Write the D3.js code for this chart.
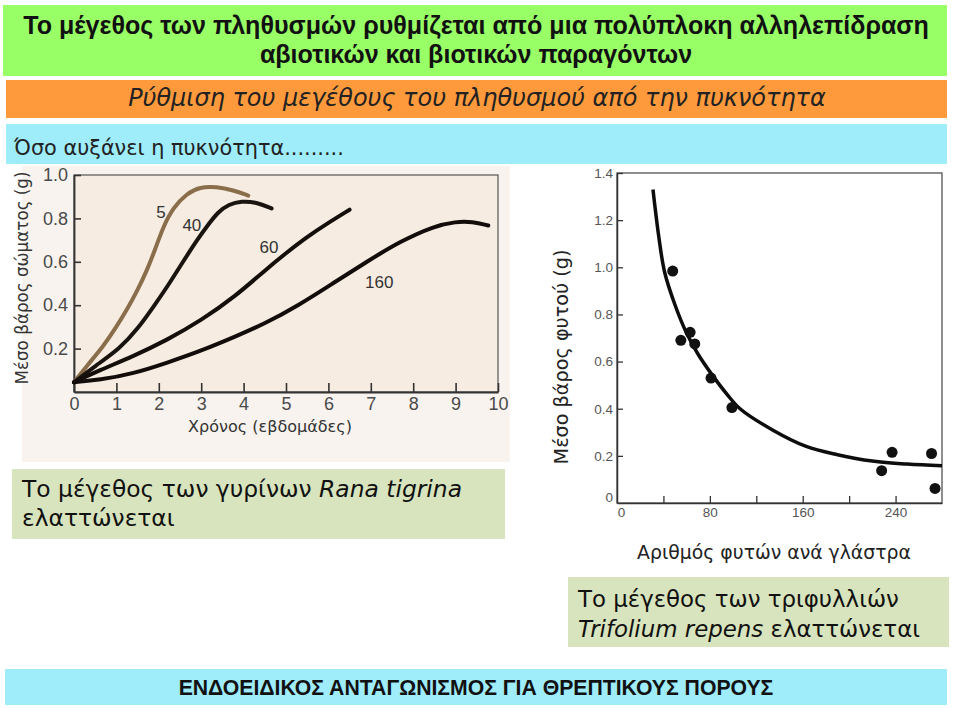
<!DOCTYPE html>
<html><head><meta charset="utf-8">
<script src="https://cdn.jsdelivr.net/npm/d3@7"></script>
<style>html,body{margin:0;padding:0;background:#fff}svg{display:block}</style>
</head><body>
<script>
// ---------- data ----------
const titleLines = ["Το μέγεθος των πληθυσμών ρυθμίζεται από μια πολύπλοκη αλληλεπίδραση", "αβιοτικών και βιοτικών παραγόντων"];
const subtitle = "Ρύθμιση του μεγέθους του πληθυσμού από την πυκνότητα";
const lead = "Όσο αυξάνει η πυκνότητα.........";
const footer = "ΕΝΔΟΕΙΔΙΚΟΣ ΑΝΤΑΓΩΝΙΣΜΟΣ ΓΙΑ ΘΡΕΠΤΙΚΟΥΣ ΠΟΡΟΥΣ";

// left chart: tadpole mean body mass (g) vs time (weeks), by density
const densities = ["5", "40", "60", "160"];
const curve5   = [[0,0.045],[0.3,0.12],[0.69,0.21],[1.0,0.30],[1.28,0.39],[1.5,0.47],[1.72,0.56],[1.92,0.66],[2.1,0.76],[2.34,0.85],[2.66,0.915],[2.97,0.945],[3.36,0.946],[3.76,0.93],[4.11,0.905]];
const curve40  = [[0,0.045],[0.5,0.12],[1.08,0.2],[1.5,0.29],[1.9,0.4],[2.25,0.5],[2.57,0.6],[2.9,0.7],[3.16,0.77],[3.4,0.83],[3.65,0.865],[3.95,0.88],[4.3,0.875],[4.66,0.846]];
const curve60  = [[0,0.045],[0.6,0.10],[1.4,0.165],[2.2,0.24],[3,0.33],[3.8,0.44],[4.5,0.56],[5,0.64],[5.5,0.715],[6,0.78],[6.5,0.84]];
const curve160 = [[0,0.045],[0.6,0.055],[1.4,0.085],[2.2,0.135],[3,0.19],[3.8,0.255],[4.5,0.315],[5.3,0.40],[6.1,0.50],[6.9,0.60],[7.7,0.695],[8.5,0.765],[9,0.785],[9.4,0.785],[9.77,0.767]];
const curveLabelPos = [[2.05,0.826],[2.78,0.766],[4.6,0.665],[7.2,0.505]];
const leftXTicks = [0,1,2,3,4,5,6,7,8,9,10];
const leftYTicks = [0.2,0.4,0.6,0.8,1.0];
const leftXTitle = "Χρόνος (εβδομάδες)";
const leftYTitle = "Μέσο βάρος σώματος (g)";
const leftNote = [["Το μέγεθος των γυρίνων ", "Rana tigrina"], ["ελαττώνεται", ""]];

// right chart: clover mean plant mass (g) vs plants per pot
const plantsPerPot = [48, 55, 63, 67, 81, 99, 228, 237, 271, 274];
const plantMass    = [0.984, 0.69, 0.724, 0.675, 0.53, 0.405, 0.137, 0.215, 0.21, 0.062];
const fitCurve = [[31,1.33],[36,1.13],[41,0.98],[50,0.84],[60,0.72],[70,0.63],[81,0.55],[95,0.46],[106,0.40],[134,0.31],[163,0.24],[190,0.205],[220,0.178],[250,0.165],[280,0.158]];
const rightXTicks = [0,40,80,120,160,200,240];
const rightXLabels = [0,80,160,240];
const rightYTicks = [0,0.2,0.4,0.6,0.8,1.0,1.2,1.4];
const rightXTitle = "Αριθμός φυτών ανά γλάστρα";
const rightYTitle = "Μέσο βάρος φυτού (g)";
const rightNote = [["Το μέγεθος των τριφυλλιών", ""], ["", "Trifolium repens", " ελαττώνεται"]];

// ---------- drawing ----------
const W = 960, H = 708;
const svg = d3.select("body").append("svg").attr("width", W).attr("height", H);
const SANS = "'DejaVu Sans', 'Noto Sans', sans-serif";
const ARIAL = "'Liberation Sans', Arial, sans-serif";

function fit(sel, target) {
  const w = sel.node().getComputedTextLength();
  const fs = parseFloat(sel.attr("font-size"));
  sel.attr("font-size", (fs * target / w).toFixed(2));
}

// banners
svg.append("rect").attr("x",3).attr("y",5).attr("width",944).attr("height",71).attr("fill","#99ff66");
svg.append("rect").attr("x",6).attr("y",80).attr("width",941).attr("height",38).attr("fill","#ff9a3c");
svg.append("rect").attr("x",6).attr("y",124).attr("width",941).attr("height",40).attr("fill","#9fecfa");
svg.append("rect").attr("x",5).attr("y",669).attr("width",942).attr("height",36).attr("fill","#9fecfa");

const t1 = svg.append("text").attr("x",476).attr("y",34).attr("text-anchor","middle").attr("font-family",ARIAL)
  .attr("font-weight","bold").attr("font-size",20).attr("fill","#111").text(titleLines[0]);
fit(t1, 906);
svg.append("text").attr("x",476).attr("y",63).attr("text-anchor","middle").attr("font-family",ARIAL)
  .attr("font-weight","bold").attr("font-size",t1.attr("font-size")).attr("fill","#111").text(titleLines[1]);
const st = svg.append("text").attr("x",477).attr("y",106).attr("text-anchor","middle").attr("font-family",SANS)
  .attr("font-style","italic").attr("font-size",18).attr("fill","#222").text(subtitle);
fit(st, 698);
const ld = svg.append("text").attr("x",14).attr("y",155).attr("font-family",SANS)
  .attr("font-size",17).attr("fill","#222").text(lead);
fit(ld, 330);
const ft = svg.append("text").attr("x",476).attr("y",695).attr("text-anchor","middle").attr("font-family",ARIAL)
  .attr("font-weight","bold").attr("font-size",18).attr("fill","#111").text(footer);
fit(ft, 595);

// ---------- left chart ----------
svg.append("rect").attr("x",22).attr("y",166).attr("width",488).attr("height",296).attr("fill","#f8f3ee");
const L = {x0:74, x1:498, y0:175, y1:392};
svg.append("rect").attr("x",L.x0).attr("y",L.y0).attr("width",L.x1-L.x0).attr("height",L.y1-L.y0).attr("fill","#f6ece1");
const lx = d3.scaleLinear().domain([0,10]).range([L.x0,L.x1]);
const ly = d3.scaleLinear().domain([0,1]).range([L.y1,L.y0]);
const lg = svg.append("g");
lg.append("rect").attr("x",L.x0).attr("y",L.y0).attr("width",L.x1-L.x0).attr("height",L.y1-L.y0)
  .attr("fill","none").attr("stroke","#555").attr("stroke-width",1.2);
const lxAxis = lg.append("g").attr("transform",`translate(0,${L.y1})`)
  .call(d3.axisBottom(lx).tickValues(leftXTicks).tickSizeInner(-9).tickSizeOuter(0).tickPadding(5).tickFormat(d3.format("d")));
const lyAxis = lg.append("g").attr("transform",`translate(${L.x0},0)`)
  .call(d3.axisLeft(ly).tickValues(leftYTicks).tickSizeInner(-7).tickSizeOuter(0).tickPadding(6).tickFormat(d3.format(".1f")));
[lxAxis, lyAxis].forEach(a => {
  a.select(".domain").attr("stroke","#333").attr("stroke-width",1.8);
  a.selectAll(".tick line").attr("stroke","#333").attr("stroke-width",1.6);
  a.selectAll(".tick text").attr("font-family",ARIAL).attr("font-size",18).attr("fill","#4a4a4a");
});

const line = d3.line().x(d=>lx(d[0])).y(d=>ly(d[1])).curve(d3.curveBasis);
const curves = [curve5, curve40, curve60, curve160];
const curveColors = ["#8a6d4a", "#1a1410", "#150f0c", "#120d0a"];
curves.forEach((c,i) => {
  lg.append("path").attr("d", line(c)).attr("fill","none").attr("stroke",curveColors[i])
    .attr("stroke-width",4).attr("stroke-linecap","round");
});
densities.forEach((d,i) => {
  lg.append("text").attr("x",lx(curveLabelPos[i][0])).attr("y",ly(curveLabelPos[i][1]))
    .attr("text-anchor","middle").attr("dominant-baseline","central")
    .attr("font-family",ARIAL).attr("font-size",17).attr("fill","#333").text(d);
});
const lxt = svg.append("text").attr("x",270).attr("y",432).attr("text-anchor","middle").attr("font-family",SANS)
  .attr("font-size",15).attr("fill","#333").text(leftXTitle);
fit(lxt, 164);
const lyt = svg.append("text").attr("transform","translate(28,278) rotate(-90)").attr("text-anchor","middle")
  .attr("font-family",SANS).attr("font-size",15).attr("fill","#333").text(leftYTitle);
fit(lyt, 213);

// left note
svg.append("rect").attr("x",12).attr("y",469).attr("width",493).attr("height",70).attr("fill","#d8e4bd");
const ln = svg.append("g").attr("font-family",SANS).attr("fill","#111");
const ln1 = ln.append("text").attr("x",22).attr("y",497).attr("font-size",21);
ln1.append("tspan").text(leftNote[0][0]);
ln1.append("tspan").attr("font-style","italic").text(leftNote[0][1]);
fit(ln1, 440);
ln.append("text").attr("x",22).attr("y",526).attr("font-size",ln1.attr("font-size")).text(leftNote[1][0]);

// ---------- right chart ----------
const R = {x0:617, x1:942, y0:173, y1:503};
const rx = d3.scaleLinear().domain([0,280]).range([R.x0,R.x1]);
const ry = d3.scaleLinear().domain([0,1.4]).range([R.y1,R.y0]);
const rg = svg.append("g");
rg.append("rect").attr("x",R.x0).attr("y",R.y0).attr("width",R.x1-R.x0).attr("height",R.y1-R.y0)
  .attr("fill","none").attr("stroke","#444").attr("stroke-width",1.2);
const rxAxis = rg.append("g").attr("transform",`translate(0,${R.y1})`)
  .call(d3.axisBottom(rx).tickValues(rightXTicks).tickSizeInner(-7).tickSizeOuter(0).tickPadding(4)
  .tickFormat(d => rightXLabels.includes(d) ? d : ""));
const ryAxis = rg.append("g").attr("transform",`translate(${R.x0},0)`)
  .call(d3.axisLeft(ry).tickValues(rightYTicks).tickSizeInner(-6).tickSizeOuter(0).tickPadding(4)
  .tickFormat(d => d === 0 ? "0" : d3.format(".1f")(d)));
[rxAxis, ryAxis].forEach(a => {
  a.select(".domain").attr("stroke","#333").attr("stroke-width",1.5);
  a.selectAll(".tick line").attr("stroke","#333").attr("stroke-width",1.3);
  a.selectAll(".tick text").attr("font-family",ARIAL).attr("font-size",13.5).attr("fill","#555");
});
ryAxis.selectAll(".tick").filter(d => d === 0).select("line").remove();
ryAxis.selectAll(".tick").filter(d => d === 0).select("text").attr("dy","-0.1em");
rxAxis.selectAll(".tick").filter(d => d === 0).select("line").remove();
rxAxis.selectAll(".tick").filter(d => d === 0).select("text").attr("dx","0.3em");

const rline = d3.line().x(d=>rx(d[0])).y(d=>ry(d[1])).curve(d3.curveCatmullRom.alpha(0.5));
rg.append("path").attr("d", rline(fitCurve)).attr("fill","none").attr("stroke","#0d0d0d").attr("stroke-width",3.5);
rg.selectAll("circle.pt").data(plantsPerPot).join("circle").attr("class","pt")
  .attr("cx", d => rx(d)).attr("cy", (d,i) => ry(plantMass[i])).attr("r",5.5).attr("fill","#111");

const ryt = svg.append("text").attr("transform","translate(568,357) rotate(-90)").attr("text-anchor","middle")
  .attr("font-family",SANS).attr("font-size",17).attr("fill","#222").text(rightYTitle);
fit(ryt, 215);
const rxt = svg.append("text").attr("x",774).attr("y",559).attr("text-anchor","middle")
  .attr("font-family",SANS).attr("font-size",16).attr("fill","#222").text(rightXTitle);
fit(rxt, 274);

// right note
svg.append("rect").attr("x",568).attr("y",577).attr("width",381).attr("height",70).attr("fill","#d8e4bd");
const rn = svg.append("g").attr("font-family",SANS).attr("fill","#111");
const rn1 = rn.append("text").attr("x",578).attr("y",607).attr("font-size",21).text(rightNote[0][0]);
fit(rn1, 321);
const rn2 = rn.append("text").attr("x",578).attr("y",637).attr("font-size",rn1.attr("font-size"));
rn2.append("tspan").attr("font-style","italic").text(rightNote[1][1]);
rn2.append("tspan").text(rightNote[1][2]);
</script>
</body></html>
